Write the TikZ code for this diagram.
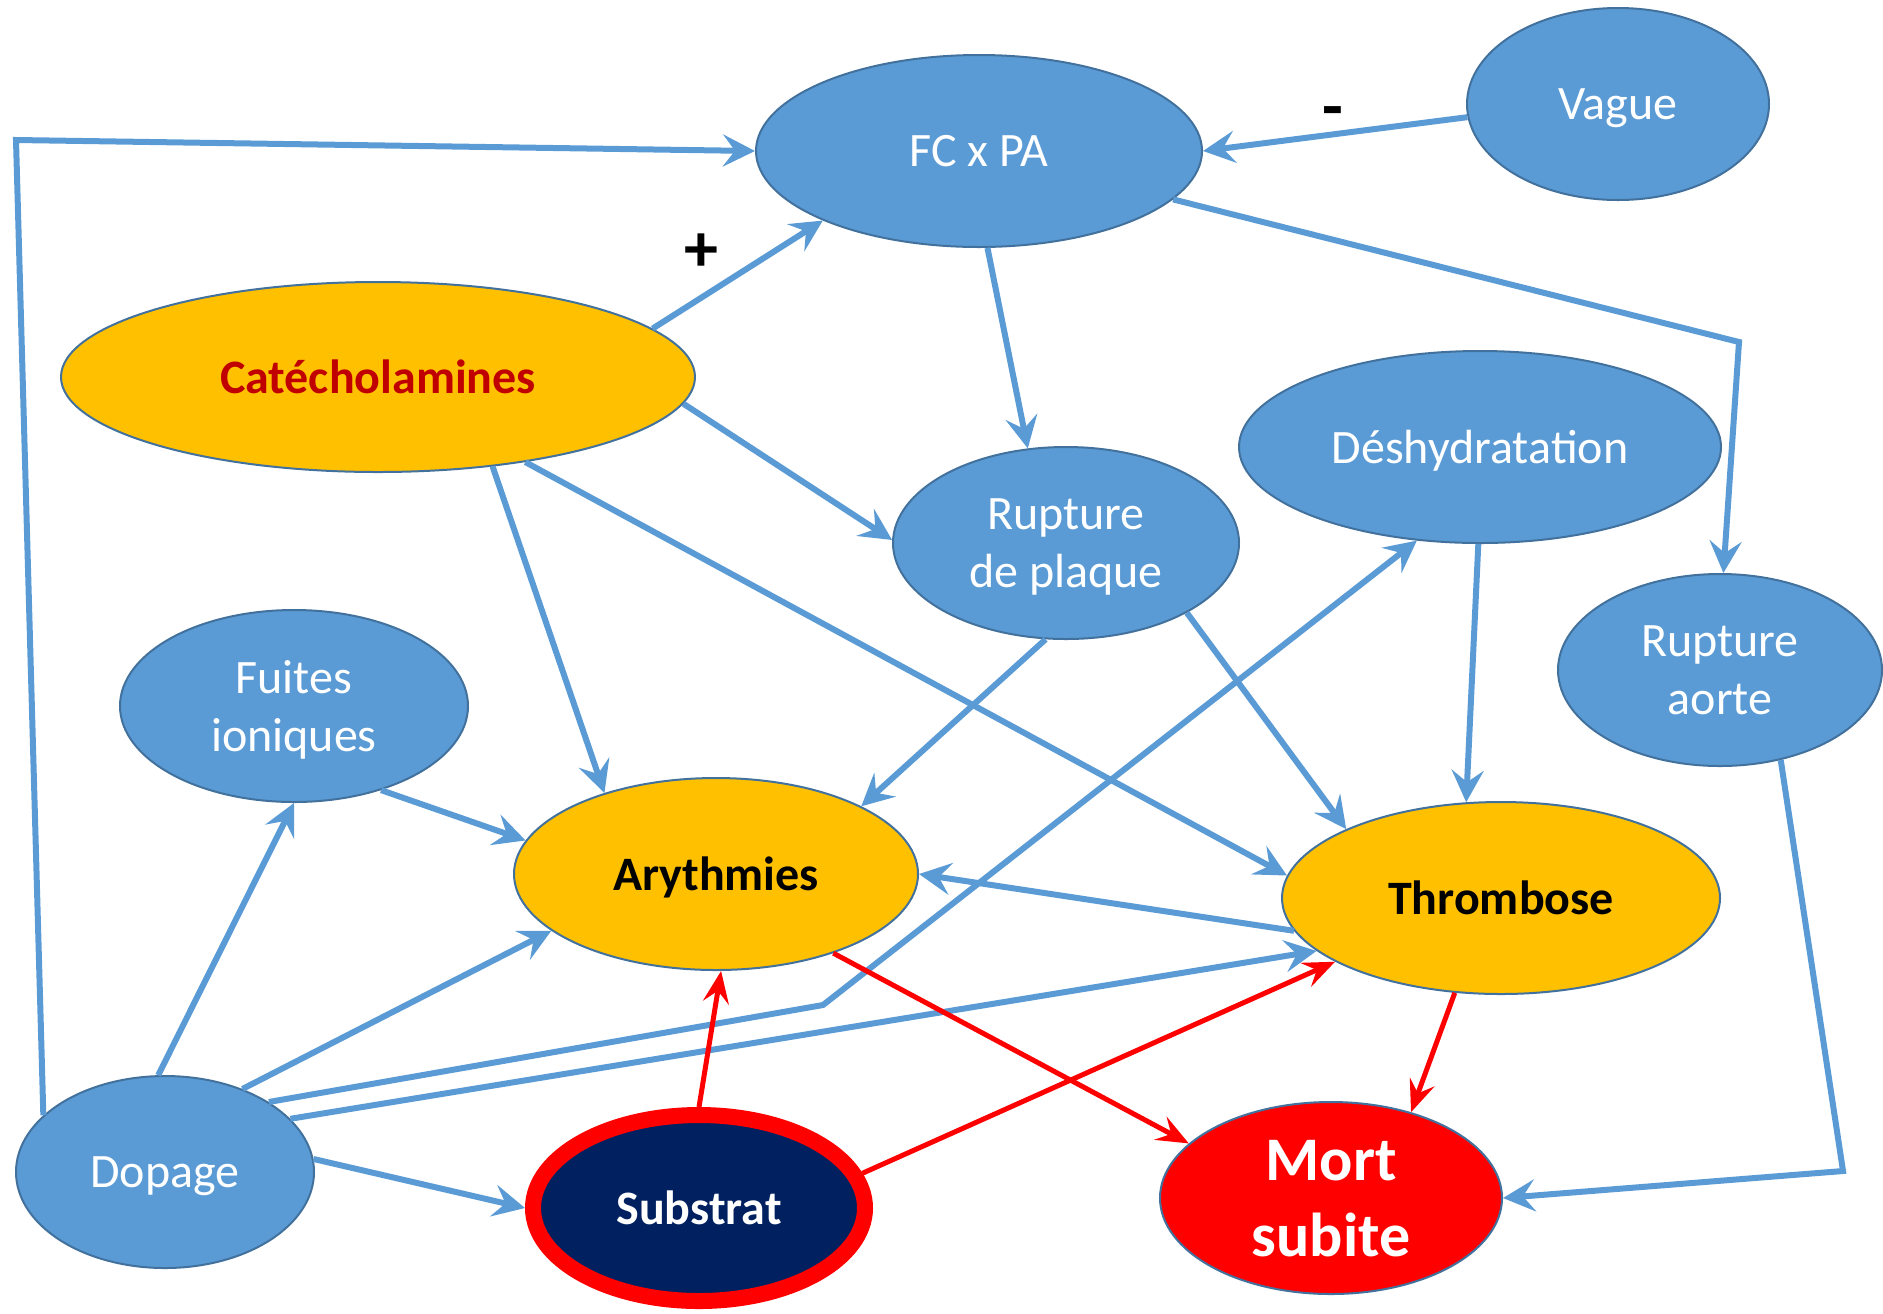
\documentclass[tikz,border=0pt]{standalone}
\usepackage{fontspec}
\setmainfont{Carlito}
\usetikzlibrary{shapes.geometric,arrows.meta}
\definecolor{bleu}{HTML}{5B9BD5}
\definecolor{bord}{HTML}{41719C}
\definecolor{jaune}{HTML}{FFC000}
\definecolor{rougef}{HTML}{C00000}
\definecolor{marine}{HTML}{002060}
\begin{document}
\begin{tikzpicture}[x=0.5pt,y=-0.5pt,
        bulle/.style={ellipse,draw=bord,line width=1pt,fill=bleu,text=white,inner sep=0pt,minimum height=96pt,text depth=0pt,align=center,font=\fontsize{24}{29}\selectfont},
        cle/.style={bulle,fill=jaune,text=black,font=\fontsize{24}{29}\selectfont\bfseries},
        signe/.style={font=\fontsize{34}{40}\selectfont\bfseries},
        fleche/.style={draw=bleu,line width=3pt,-{Stealth[length=16pt,width=16pt,inset=6pt]}},
        rouge/.style={draw=red,line width=2.5pt,-{Stealth[length=16pt,width=13pt,inset=6pt]}}]
        \useasboundingbox (0,0) rectangle (1883,1313);
        \node[bulle,minimum width=223pt] (fc) at (979,151) {FC x PA};
        \node[bulle,minimum width=151pt] (vague) at (1618,104) {Vague};
        \node[cle,minimum width=317pt,minimum height=95pt,text=rougef] (cat) at (378,377) {Catécholamines};
        \node[bulle,minimum width=241pt] (desh) at (1480,447) {Déshydratation};
        \node[bulle,minimum width=173pt] (plaque) at (1066,543) {Rupture\\de plaque};
        \node[bulle,minimum width=162pt] (aorte) at (1720,670) {Rupture\\aorte};
        \node[bulle,minimum width=174pt] (fuites) at (294,706) {Fuites\\ioniques};
        \node[cle,minimum width=202pt] (ary) at (716,874) {Arythmies};
        \node[cle,minimum width=219pt] (thr) at (1501,898) {Thrombose};
        \node[bulle,minimum width=149pt] (dop) at (165,1172) {Dopage};
        \node[bulle,draw=red,line width=8pt,fill=marine,minimum width=166pt,minimum height=93pt,font=\fontsize{24}{29}\selectfont\bfseries] (sub) at (699,1208) {Substrat};
        \node[bulle,fill=red,minimum width=171pt,font=\fontsize{31}{38}\selectfont\bfseries] (mort) at (1331,1198) {Mort\\subite};
        \node[signe] (plus) at (701,253) {+};
        \node[signe] (moins) at (1333,118) {-};
        \coordinate (coinNO) at (16,140);
        \coordinate (coinNE) at (1739,342);
        \coordinate (coinSE) at (1843,1171);
        \coordinate (coude) at (823,1005);
        \draw[fleche] (dop.155) -- (coinNO) -- (fc.west);
        \draw[fleche] (cat.10) -- (fc.204);
        \draw[fleche] (vague.185) -- (fc.east);
        \draw[fleche] (fc.346) -- (coinNE) -- (aorte.88);
        \draw[fleche] (fc.275) -- (plaque.112);
        \draw[fleche] (cat.355) -- (plaque.179);
        \draw[fleche] (cat.322) -- (ary.144);
        \draw[fleche] (cat.330) -- (thr.174);
        \draw[fleche] (plaque.258) -- (ary.25);
        \draw[fleche] (plaque.330) -- (thr.156);
        \draw[fleche] (desh.269) -- (thr.110);
        \draw[fleche] (thr.189) -- (ary.east);
        \draw[fleche] (fuites.316) -- (ary.170);
        \draw[fleche] (dop.94) -- (fuites.270);
        \draw[fleche] (dop.47) -- (ary.199);
        \draw[fleche] (dop.34) -- (coude) -- (desh.236);
        \draw[fleche] (dop.23) -- (thr.196);
        \draw[fleche] (dop.5) -- (sub.west);
        \draw[fleche] (aorte.304) -- (coinSE) -- (mort.east);
        \draw[rouge] (sub.north) -- (ary.273);
        \draw[rouge] (sub.12) -- (thr.201);
        \draw[rouge] (ary.326) -- (mort.159);
        \draw[rouge] (thr.244) -- (mort.47);
    \end{tikzpicture}
\end{document}
